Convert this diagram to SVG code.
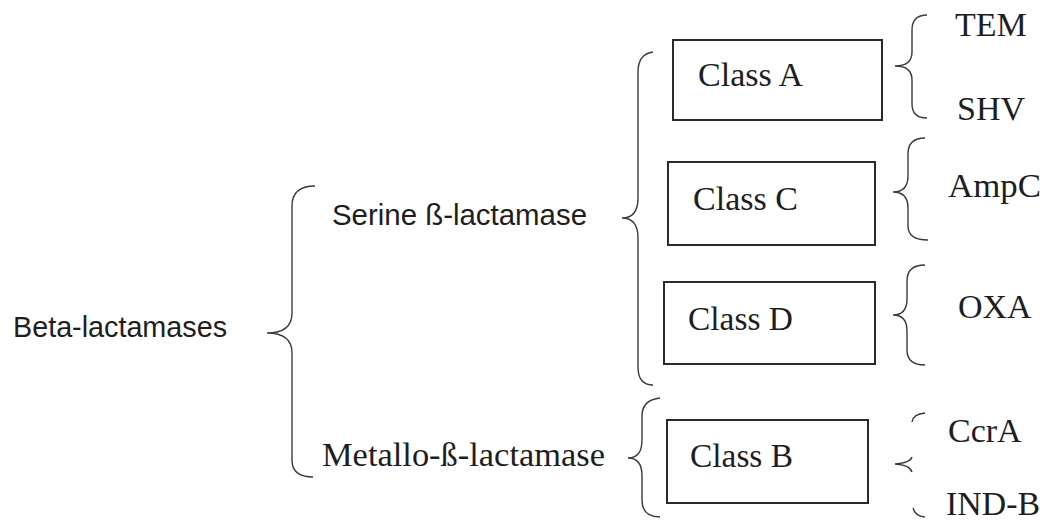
<svg xmlns="http://www.w3.org/2000/svg" width="1044" height="521" viewBox="0 0 1044 521">
<style>
.sans{font-family:"Liberation Sans",Arial,sans-serif;font-size:30px;fill:#1e1e1e}
.serif{font-family:"Liberation Serif","Times New Roman",serif;font-size:34px;fill:#1e1e1e}
.box{fill:#fff;stroke:#2a2a2a;stroke-width:2}
.brace{fill:none;stroke:#3a3a3a;stroke-width:1.4}
</style>
<rect width="1044" height="521" fill="#fff"/>
<g id="connectors">
<path class="brace" d="M315,186 Q292,186 292,206 L292,313 Q292,333 267,333 Q292,333 292,353 L292,460 Q292,477 313,477"/>
<path class="brace" d="M653,52 Q638,54 638,72 L638,198 Q638,218 622,218 Q638,218 638,238 L638,367 Q638,385 653,385"/>
<path class="brace" d="M660,398 Q642,400 642,416 L642,440 Q642,458 628,458 Q642,458 642,476 L642,500 Q642,517 660,517"/>
<path class="brace" d="M927,15 Q912,15 912,30 L912,52 Q912,66 895,66 Q912,66 912,80 L912,104 Q912,118 927,118"/>
<path class="brace" d="M925,138 Q908,138 908,154 L908,176 Q908,192 893,192 Q908,192 908,208 L908,226 Q908,240 928,240"/>
<path class="brace" d="M925,265 Q907,265 907,281 L907,299 Q907,315 893,315 Q907,315 907,331 L907,350 Q907,365 925,365"/>
<path class="brace" d="M925,413 Q913,414 912,422"/>
<path class="brace" d="M912,457 Q910,463 895,464 Q910,465 912,472"/>
<path class="brace" d="M913,508 Q915,516 925,517"/>
</g>
<g id="beta-lactamases"><text class="sans" x="13" y="337" textLength="214" lengthAdjust="spacingAndGlyphs">Beta-lactamases</text></g>
<g id="serine"><text class="sans" x="332" y="225" textLength="255" lengthAdjust="spacingAndGlyphs">Serine ß-lactamase</text></g>
<g id="metallo"><text class="serif" x="322" y="466" textLength="283" lengthAdjust="spacingAndGlyphs">Metallo-ß-lactamase</text></g>
<g id="classA"><rect class="box" x="673" y="40" width="209" height="80"/><text class="serif" x="698" y="86" textLength="105" lengthAdjust="spacingAndGlyphs">Class A</text></g>
<g id="classC"><rect class="box" x="668" y="162" width="207" height="83"/><text class="serif" x="693" y="210" textLength="105" lengthAdjust="spacingAndGlyphs">Class C</text></g>
<g id="classD"><rect class="box" x="664" y="282" width="211" height="82"/><text class="serif" x="688" y="330" textLength="105" lengthAdjust="spacingAndGlyphs">Class D</text></g>
<g id="classB"><rect class="box" x="667" y="420" width="201" height="83"/><text class="serif" x="690" y="467" textLength="103" lengthAdjust="spacingAndGlyphs">Class B</text></g>
<g id="tem"><text class="serif" x="955" y="36">TEM</text></g>
<g id="shv"><text class="serif" x="957" y="120">SHV</text></g>
<g id="ampc"><text class="serif" x="948" y="197" textLength="93" lengthAdjust="spacingAndGlyphs">AmpC</text></g>
<g id="oxa"><text class="serif" x="958" y="318">OXA</text></g>
<g id="ccra"><text class="serif" x="948" y="442">CcrA</text></g>
<g id="indb"><text class="serif" x="946" y="515" textLength="94" lengthAdjust="spacingAndGlyphs">IND-B</text></g>
</svg>
